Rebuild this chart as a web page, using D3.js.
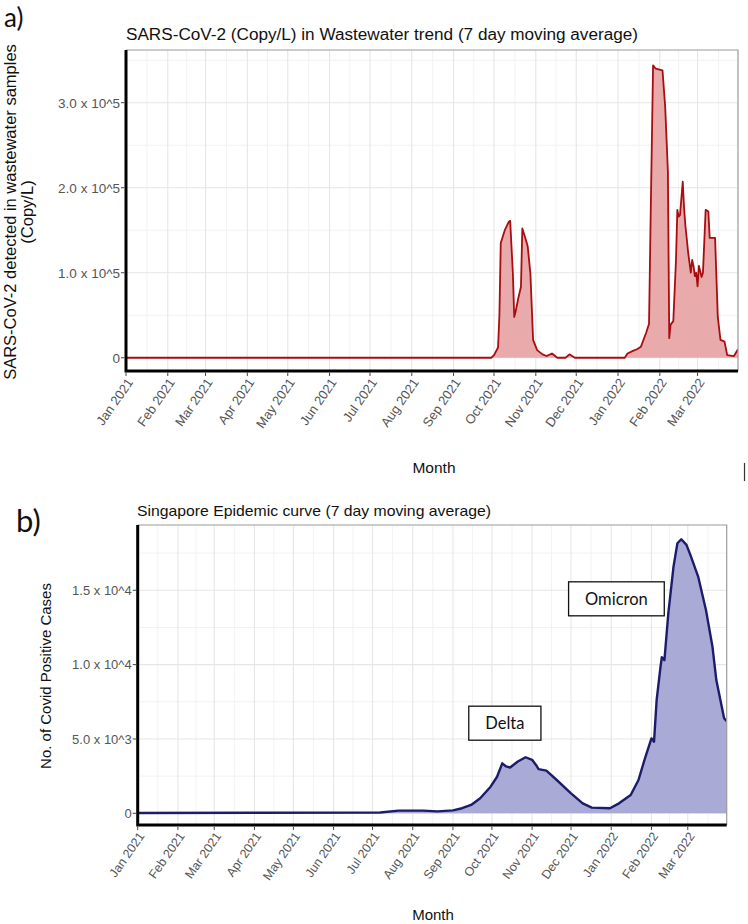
<!DOCTYPE html>
<html><head><meta charset="utf-8">
<script src="https://cdn.jsdelivr.net/npm/d3@7"></script>
<style>
body{margin:0;background:#fff}
svg{display:block}
text{font-family:"Liberation Sans",Arial,sans-serif}
</style></head>
<body><svg id="c" width="748" height="924"></svg>
<script>
// ---------- data ----------
const monthTicks = ["2021-01-01","2021-02-01","2021-03-01","2021-04-01","2021-05-01","2021-06-01","2021-07-01","2021-08-01","2021-09-01","2021-10-01","2021-11-01","2021-12-01","2022-01-01","2022-02-01","2022-03-01"];
const monthLabels = ["Jan 2021","Feb 2021","Mar 2021","Apr 2021","May 2021","Jun 2021","Jul 2021","Aug 2021","Sep 2021","Oct 2021","Nov 2021","Dec 2021","Jan 2022","Feb 2022","Mar 2022"];
const dateDomain = ["2021-01-01","2022-03-31"];

// a) wastewater copies/L (7-day moving average)
const wwDates = ["2021-01-01","2021-09-29","2021-10-01","2021-10-04","2021-10-05","2021-10-06","2021-10-09","2021-10-12","2021-10-13","2021-10-15","2021-10-16","2021-10-17","2021-10-19","2021-10-21","2021-10-22","2021-10-24","2021-10-26","2021-10-28","2021-10-30","2021-11-02","2021-11-06","2021-11-09","2021-11-13","2021-11-17","2021-11-23","2021-11-26","2021-11-30","2022-01-06","2022-01-08","2022-01-12","2022-01-15","2022-01-18","2022-01-22","2022-01-24","2022-01-25","2022-01-27","2022-01-29","2022-02-03","2022-02-05","2022-02-07","2022-02-08","2022-02-09","2022-02-11","2022-02-13","2022-02-14","2022-02-15","2022-02-16","2022-02-18","2022-02-19","2022-02-20","2022-02-21","2022-02-22","2022-02-23","2022-02-24","2022-02-25","2022-02-26","2022-02-27","2022-02-28","2022-03-01","2022-03-02","2022-03-04","2022-03-05","2022-03-07","2022-03-09","2022-03-10","2022-03-14","2022-03-16","2022-03-18","2022-03-21","2022-03-23","2022-03-28","2022-03-31"];
const wwValues = [0,0,3000,12000,50000,135000,150000,160000,161000,99000,48000,54000,70000,83500,152000,142000,131000,99000,21000,9000,4000,2000,5000,0,0,4000,0,0,5000,8000,10000,13000,30000,40000,145000,344000,340000,338000,295000,219000,23000,39000,43000,115000,174000,166000,168000,207000,176000,155000,140000,124000,112000,100000,115000,108000,96000,100000,84000,108000,95000,100000,174000,172000,141000,141000,48000,21000,19000,3000,2000,10000];
const wwTicks = [0,100000,200000,300000];
const wwTickLabels = ["0","1.0 x 10^5","2.0 x 10^5","3.0 x 10^5"];
const wwMinor = [50000,150000,250000,350000];

// b) Singapore cases (7-day moving average)
const caseDates = ["2021-01-01","2021-07-07","2021-07-21","2021-08-09","2021-08-20","2021-09-01","2021-09-08","2021-09-15","2021-09-22","2021-09-30","2021-10-05","2021-10-09","2021-10-12","2021-10-15","2021-10-21","2021-10-27","2021-11-01","2021-11-04","2021-11-06","2021-11-12","2021-11-20","2021-12-01","2021-12-10","2021-12-17","2021-12-31","2022-01-07","2022-01-16","2022-01-22","2022-01-27","2022-02-01","2022-02-03","2022-02-05","2022-02-08","2022-02-09","2022-02-11","2022-02-14","2022-02-18","2022-02-21","2022-02-24","2022-02-28","2022-03-03","2022-03-09","2022-03-15","2022-03-20","2022-03-23","2022-03-29","2022-03-31"];
const caseValues = [20,50,180,180,130,200,340,560,1010,1790,2460,3360,3150,3080,3480,3770,3600,3250,2970,2870,2240,1345,670,380,336,670,1230,2240,3700,5040,4820,7620,9860,10500,10300,13450,16590,18160,18430,18050,17380,15920,13680,11220,8960,6390,6200];
const caseTicks = [0,5000,10000,15000];
const caseTickLabels = ["0","5.0 x 10^3","1.0 x 10^4","1.5 x 10^4"];
const caseMinor = [2500,7500,12500,17500];

const annotations = [{label:"Delta", date:"2021-10-11", value:6060},{label:"Omicron", date:"2022-01-05", value:14425}];

// ---------- drawing ----------
const parse = d3.timeParse("%Y-%m-%d");
const svg = d3.select("#c");
svg.append("rect").attr("width",748).attr("height",924).attr("fill","#fff");

function panel(cfg){
  const x = d3.scaleTime().domain(dateDomain.map(parse)).range([cfg.left, cfg.right]);
  const y = d3.scaleLinear().domain(cfg.yDomain).range([cfg.bottom, cfg.top]);
  const g = svg.append("g");
  const ticksD = monthTicks.map(parse);
  const allMonths = d3.timeMonth.range(parse("2020-12-01"), parse("2022-06-01"));
  const minorX = d3.pairs(allMonths).map(([a,b]) => new Date((+a + +b)/2)).filter(d => d > x.domain()[0] && d < x.domain()[1]);
  g.selectAll(".mx").data(minorX).join("line").attr("x1",d=>x(d)).attr("x2",d=>x(d)).attr("y1",cfg.top).attr("y2",cfg.bottom).attr("stroke","#f2f2f2").attr("stroke-width",1);
  g.selectAll(".my").data(cfg.minor).join("line").attr("x1",cfg.left).attr("x2",cfg.right).attr("y1",d=>y(d)).attr("y2",d=>y(d)).attr("stroke","#f2f2f2").attr("stroke-width",1);
  g.selectAll(".Mx").data(ticksD).join("line").attr("x1",d=>x(d)).attr("x2",d=>x(d)).attr("y1",cfg.top).attr("y2",cfg.bottom).attr("stroke","#e6e6e6").attr("stroke-width",1.1);
  g.selectAll(".My").data(cfg.ticks).join("line").attr("x1",cfg.left).attr("x2",cfg.right).attr("y1",d=>y(d)).attr("y2",d=>y(d)).attr("stroke","#e6e6e6").attr("stroke-width",1.1);

  const data = cfg.dates.map((d,i)=>({date:parse(d), v:cfg.values[i]}));
  const clipId = "clip"+cfg.id;
  svg.append("clipPath").attr("id",clipId).append("rect").attr("x",cfg.left).attr("y",cfg.top).attr("width",cfg.right-cfg.left).attr("height",cfg.bottom-cfg.top);
  const dg = g.append("g").attr("clip-path",`url(#${clipId})`);
  dg.append("path").datum(data).attr("fill",cfg.fill)
    .attr("d", d3.area().x(d=>x(d.date)).y0(y(0)).y1(d=>y(d.v)));
  dg.append("path").datum(data).attr("fill","none").attr("stroke",cfg.stroke).attr("stroke-width",cfg.sw).attr("stroke-linejoin","round")
    .attr("d", d3.line().x(d=>x(d.date)).y(d=>y(d.v)));

  g.append("path").attr("d",`M${cfg.left},${cfg.top}H${cfg.right}V${cfg.bottom}`).attr("fill","none").attr("stroke","#9a9a9a").attr("stroke-width",1.2);
  g.append("path").attr("d",`M${cfg.left},${cfg.top}V${cfg.bottom}H${cfg.right}`).attr("fill","none").attr("stroke","#000").attr("stroke-width",3);

  g.selectAll(".yt").data(cfg.ticks).join("line").attr("x1",cfg.left-5).attr("x2",cfg.left-1.5).attr("y1",d=>y(d)).attr("y2",d=>y(d)).attr("stroke","#444").attr("stroke-width",1);
  g.selectAll(".yl").data(cfg.ticks).join("text").attr("x",cfg.left-6).attr("y",d=>y(d)).attr("dy","0.36em")
    .attr("text-anchor","end").attr("fill","#555").attr("font-size",cfg.tickFont).text((d,i)=>cfg.tickLabels[i]);
  g.selectAll(".xt").data(ticksD).join("line").attr("x1",d=>x(d)).attr("x2",d=>x(d)).attr("y1",cfg.bottom+1.5).attr("y2",cfg.bottom+5).attr("stroke","#444").attr("stroke-width",1);
  g.selectAll(".xl").data(ticksD).join("text")
    .attr("transform",d=>`translate(${x(d)},${cfg.bottom+6}) rotate(-55)`)
    .attr("dy","0.72em").attr("text-anchor","end").attr("fill","#555").attr("font-size",cfg.xFont)
    .text((d,i)=>monthLabels[i]);
  return {x,y,g};
}

// Panel a
const A = panel({id:"a", left:126, right:738, top:50, bottom:371, yDomain:[-15600,362000],
  dates:wwDates, values:wwValues, ticks:wwTicks, tickLabels:wwTickLabels, minor:wwMinor,
  fill:"#e8aaaa", stroke:"#a80d12", sw:1.8, tickFont:13.5, xFont:13});
svg.append("text").attr("x",126).attr("y",39.5).attr("font-size",16).attr("textLength",512).attr("lengthAdjust","spacingAndGlyphs").attr("fill","#111").text("SARS-CoV-2 (Copy/L) in Wastewater trend (7 day moving average)");
svg.append("text").attr("transform","translate(16,212) rotate(-90)").attr("text-anchor","middle").attr("font-size",16.5).attr("fill","#111").text("SARS-CoV-2 detected in wastewater samples");
svg.append("text").attr("transform","translate(33,212) rotate(-90)").attr("text-anchor","middle").attr("font-size",16.5).attr("fill","#111").text("(Copy/L)");
svg.append("text").attr("x",434).attr("y",473).attr("text-anchor","middle").attr("font-size",15.5).attr("fill","#111").text("Month");
svg.append("text").attr("x",4).attr("y",27).attr("font-size",26).attr("fill","#111").style("font-family","Lato, 'Open Sans', sans-serif").text("a)");
svg.append("line").attr("x1",744.5).attr("x2",744.5).attr("y1",463).attr("y2",481).attr("stroke","#333").attr("stroke-width",1.2);

// Panel b
const B = panel({id:"b", left:137.7, right:726.7, top:525, bottom:825, yDomain:[-787,19390],
  dates:caseDates, values:caseValues, ticks:caseTicks, tickLabels:caseTickLabels, minor:caseMinor,
  fill:"#aaaad6", stroke:"#1c1c6b", sw:2.4, tickFont:13, xFont:12.5});
svg.append("text").attr("x",137).attr("y",516).attr("font-size",15).attr("textLength",354).attr("lengthAdjust","spacingAndGlyphs").attr("fill","#111").text("Singapore Epidemic curve (7 day moving average)");
svg.append("text").attr("transform","translate(51,676) rotate(-90)").attr("text-anchor","middle").attr("font-size",15).attr("fill","#111").text("No. of Covid Positive Cases");
svg.append("text").attr("x",433).attr("y",920).attr("text-anchor","middle").attr("font-size",15).attr("fill","#111").text("Month");
svg.append("text").attr("x",16).attr("y",532).attr("font-size",31).attr("fill","#111").style("font-family","Lato, 'Open Sans', sans-serif").text("b)");

annotations.forEach(a=>{
  const cx = B.x(parse(a.date)), cy = B.y(a.value);
  const ag = svg.append("g");
  const t = ag.append("text").attr("x",cx).attr("y",cy).attr("dy","0.35em").attr("text-anchor","middle")
    .attr("font-size",16.5).attr("fill","#111").style("font-family","Lato, 'Open Sans', sans-serif").text(a.label);
  const w = t.node().getComputedTextLength() + 33;
  ag.insert("rect","text").attr("x",cx-w/2).attr("y",cy-17).attr("width",w).attr("height",34)
    .attr("fill","#fff").attr("stroke","#111").attr("stroke-width",1.3);
});
</script></body></html>
